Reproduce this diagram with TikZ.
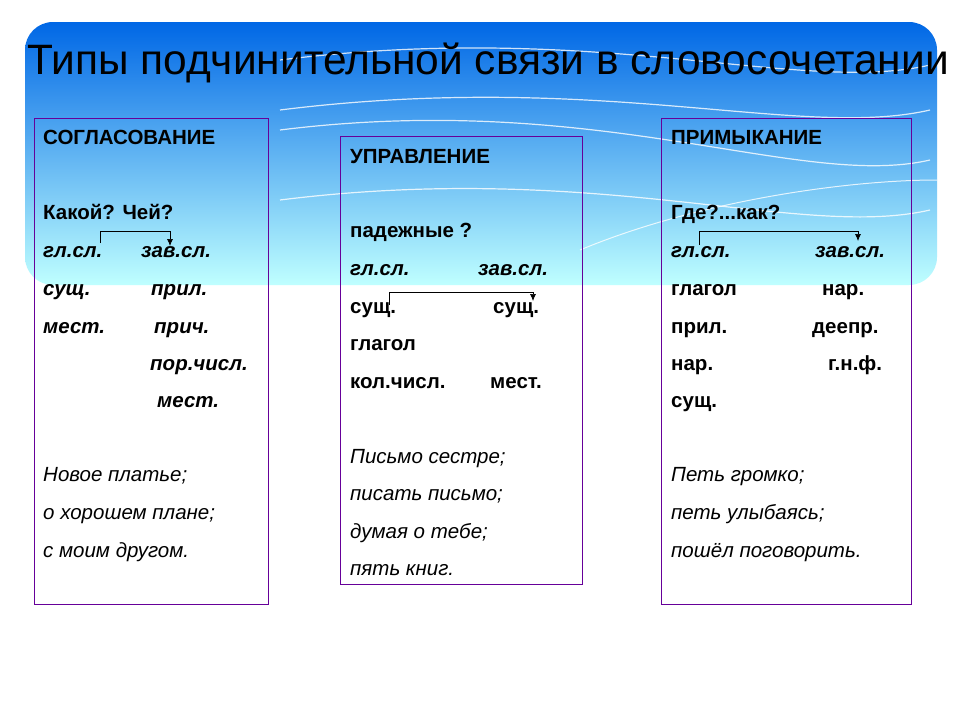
\documentclass[tikz,border=0pt]{standalone}
\usepackage{fontspec}
\usetikzlibrary{arrows.meta}
\setmainfont{Liberation Sans}
\begin{document}
\begin{tikzpicture}[x=1pt,y=-1pt,
  t/.style={anchor=base west,inner sep=0pt,yshift=-7pt,font=\fontsize{20.5}{22}\selectfont\bfseries},
  ti/.style={t,font=\fontsize{20.5}{22}\selectfont\bfseries\itshape},
  it/.style={t,font=\fontsize{20.5}{22}\selectfont\itshape},
  box/.style={draw=violet!80!blue,line width=0.8pt},
  arr/.style={-{Latex[length=7pt,width=6pt]},line width=0.7pt}]
\useasboundingbox (0,0) rectangle (960,720);
\fill[white] (0,0) rectangle (960,720);
\shade[top color=blue!55!cyan!90!black, bottom color=cyan!25!white, rounded corners=28pt] (25,22) rectangle (937,285);
\foreach \a/\b in {60/95,110/140,130/190,200/240}{
 \draw[white,line width=1.2pt,opacity=0.8] (280,\a) .. controls (600,\a-40) and (800,\b) .. (930,\b-30);}
\draw[white,line width=1pt,opacity=0.8] (580,250) .. controls (700,200) and (850,180) .. (937,180);
\node[anchor=base west,inner sep=0pt,font=\fontsize{42.5}{44}\selectfont] (title) at (27,74) {Типы подчинительной связи в словосочетании};
% boxes
\draw[box] (34,118) rectangle (268,604);
\draw[box] (340,136) rectangle (582,584);
\draw[box] (661,118) rectangle (911,604);
% left
\node[t] (l1) at (43,137) {СОГЛАСОВАНИЕ};
\node[t] (l2) at (43,212) {Какой? Чей?};
\node[ti] (l3) at (43,250) {гл.сл.};
\node[ti] (l3b) at (141,250) {зав.сл.};
\node[ti] (l4) at (43,288) {сущ.};
\node[ti] (l4b) at (151,288) {прил.};
\node[ti] (l5) at (43,326) {мест.};
\node[ti] (l5b) at (154,326) {прич.};
\node[ti] (l6) at (150,363) {пор.числ.};
\node[ti] (l7) at (157,400) {мест.};
\node[it] (l8) at (43,474) {Новое платье;};
\node[it] (l9) at (43,512) {о хорошем плане;};
\node[it] (l10) at (43,550) {с моим другом.};
\coordinate (la) at (100,243);
\coordinate (lb) at (170,246);
\draw[arr] (la) -- (100,231) -- (170,231) -- (lb);
% middle
\node[t] (m1) at (350,156) {УПРАВЛЕНИЕ};
\node[t] (m2) at (350,230) {падежные  ?};
\node[ti] (m3) at (350,268) {гл.сл.};
\node[ti] (m3b) at (478,268) {зав.сл.};
\node[t] (m4) at (350,306) {сущ.};
\node[t] (m4b) at (493,306) {сущ.};
\node[t] (m5) at (350,343) {глагол};
\node[t] (m6) at (350,381) {кол.числ.};
\node[t] (m6b) at (490,381) {мест.};
\node[it] (m7) at (350,456) {Письмо сестре;};
\node[it] (m8) at (350,493) {писать письмо;};
\node[it] (m9) at (350,531) {думая о тебе;};
\node[it] (m10) at (350,568) {пять книг.};
\coordinate (ma) at (389,305);
\coordinate (mb) at (533,301);
\draw[arr] (ma) -- (389,292) -- (533,292) -- (mb);
% right
\node[t] (r1) at (671,137) {ПРИМЫКАНИЕ};
\node[t] (r2) at (671,212) {Где?...как?};
\node[ti] (r3) at (671,250) {гл.сл.};
\node[ti] (r3b) at (815,250) {зав.сл.};
\node[t] (r4) at (671,288) {глагол};
\node[t] (r4b) at (822,288) {нар.};
\node[t] (r5) at (671,326) {прил.};
\node[t] (r5b) at (812,326) {деепр.};
\node[t] (r6) at (671,363) {нар.};
\node[t] (r6b) at (828,363) {г.н.ф.};
\node[t] (r7) at (671,400) {сущ.};
\node[it] (r8) at (671,474) {Петь громко;};
\node[it] (r9) at (671,512) {петь улыбаясь;};
\node[it] (r10) at (671,550) {пошёл поговорить.};
\coordinate (ra) at (699,245);
\coordinate (rb) at (858,241);
\draw[arr] (ra) -- (699,231) -- (858,231) -- (rb);
\end{tikzpicture}
\end{document}
